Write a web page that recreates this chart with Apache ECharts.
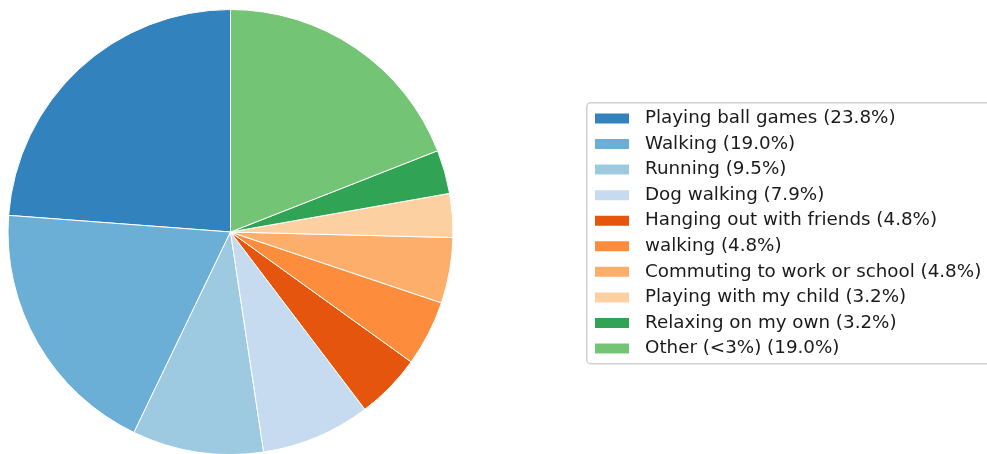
<!DOCTYPE html>
<html>
<head>
<meta charset="utf-8">
<script src="https://cdn.jsdelivr.net/npm/echarts@6/dist/echarts.min.js"></script>
<style>
html,body{margin:0;padding:0;background:#fff;}
#chart{width:987px;height:454px;}
</style>
</head>
<body>
<div id="chart"></div>
<script>
var categories = ["Playing ball games", "Walking", "Running", "Dog walking", "Hanging out with friends", "walking", "Commuting to work or school", "Playing with my child", "Relaxing on my own", "Other (<3%)"];
var counts = [15, 12, 6, 5, 3, 3, 3, 2, 2, 12];
var colors = ["#3182bd", "#6baed6", "#9ecae1", "#c6dbef", "#e6550d", "#fd8d3c", "#fdae6b", "#fdd0a2", "#31a354", "#74c476"];

var total = counts.reduce(function(a,b){return a+b;},0);
var pctMap = {};
var data = categories.map(function(c,i){
  pctMap[c] = (counts[i]/total*100).toFixed(1);
  return {name:c, value:counts[i], itemStyle:{color:colors[i]}};
});

var chart = echarts.init(document.getElementById('chart'), null, {renderer:'canvas'});
chart.setOption({
  animation:false,
  graphic:[{
    type:'rect', left:586, top:102,
    shape:{width:430, height:261, r:4},
    style:{fill:'#fff', stroke:'#d0d0d0', lineWidth:1.5},
    z:-1
  }],
  legend:{
    orient:'vertical', left:593, top:109.5, padding:0,
    itemWidth:36, itemHeight:12, itemGap:7.56,
    icon:'rect', selectedMode:false,
    textStyle:{fontFamily:'DejaVu Sans', fontSize:18.3, lineHeight:18, color:'#1a1a1a', padding:[0,0,0,10]},
    formatter:function(n){return n + ' (' + pctMap[n] + '%)';},
    data:categories
  },
  series:[{
    type:'pie',
    center:[230.5,232], radius:222.5,
    startAngle:90, clockwise:false,
    label:{show:false}, labelLine:{show:false},
    emphasis:{disabled:true},
    itemStyle:{borderColor:'#fff', borderWidth:1},
    data:data
  }]
});
</script>
</body>
</html>
